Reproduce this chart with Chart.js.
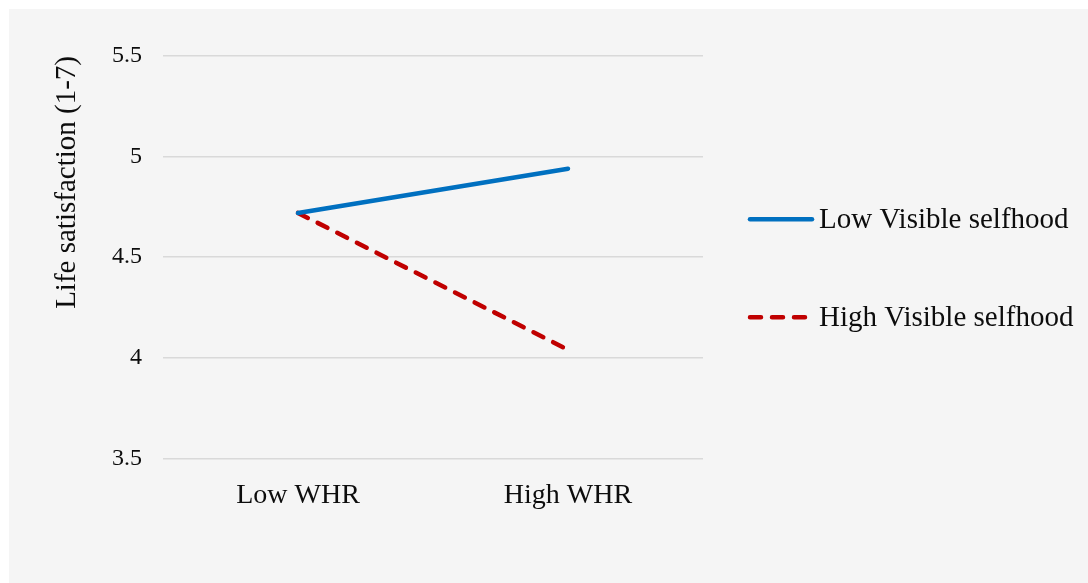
<!DOCTYPE html>
<html>
<head>
<meta charset="utf-8">
<script src="https://cdn.jsdelivr.net/npm/chart.js@4.4.1/dist/chart.umd.min.js"></script>
<style>
  html, body { margin: 0; padding: 0; background: #fff; }
  #wrap { position: absolute; left: 9px; top: 9px; width: 1079px; height: 574px; background: #f5f5f5; }
</style>
</head>
<body>
<div id="wrap"><canvas id="chartLife"></canvas></div>
<script>
// ==================== Data ====================
const kategori = ['Low WHR', 'High WHR'];
const lowVisible = [4.72, 4.94];
const highVisible = [4.72, 4.04];
const yTicks = [3.5, 4, 4.5, 5, 5.5];

const serif = "'Liberation Serif', 'Times New Roman', serif";

// ==================== Legend (kanan) ====================
const legendKanan = {
  id: 'legendKanan',
  afterDraw(chart) {
    const { ctx, chartArea } = chart;
    const x0 = chartArea.right + 45;
    const yMid = (chartArea.top + chartArea.bottom) / 2 + 11;
    chart.data.datasets.forEach((ds, i) => {
      const y = yMid + (i - 0.5) * 98;
      ctx.save();
      ctx.strokeStyle = ds.borderColor;
      ctx.lineWidth = ds.borderWidth;
      ctx.lineCap = 'round';
      ctx.setLineDash(ds.borderDash || []);
      ctx.beginPath();
      ctx.moveTo(x0 + 2, y);
      ctx.lineTo(x0 + 64, y);
      ctx.stroke();
      ctx.setLineDash([]);
      ctx.fillStyle = '#0d0d0d';
      ctx.font = '29px ' + serif;
      ctx.textBaseline = 'middle';
      ctx.fillText(ds.label, x0 + 71, y + 1);
      ctx.restore();
    });
  }
};

// ==================== Chart ====================
const ctx = document.getElementById('chartLife').getContext('2d');
const chart = new Chart(ctx, {
  type: 'line',
  data: {
    labels: kategori,
    datasets: [
      { label: 'Low Visible selfhood', data: lowVisible, borderColor: '#0070C0', borderWidth: 4.5,
        borderCapStyle: 'round', pointRadius: 0, tension: 0 },
      { label: 'High Visible selfhood', data: highVisible, borderColor: '#C00000', borderWidth: 4.5,
        borderDash: [11, 11], borderCapStyle: 'round', pointRadius: 0, tension: 0 }
    ]
  },
  options: {
    responsive: true,
    maintainAspectRatio: false,
    animation: false,
    layout: { padding: { left: 41, right: 385, top: 47, bottom: 51 } },
    plugins: { legend: { display: false }, tooltip: { enabled: false } },
    scales: {
      x: {
        offset: true,
        grid: { display: false, drawTicks: false },
        border: { display: false },
        ticks: { color: '#0d0d0d', padding: 20, font: { family: serif, size: 28 } }
      },
      y: {
        min: 3.5,
        max: 5.5,
        afterBuildTicks: scale => { scale.ticks = yTicks.map(v => ({ value: v })); },
        afterFit: scale => { scale.width = 113; },
        grid: { color: '#d9d9d9', lineWidth: 1.5, drawTicks: false },
        border: { display: false },
        ticks: { color: '#0d0d0d', padding: 21, font: { family: serif, size: 24 }, callback: v => String(v) },
        title: {
          display: true,
          text: 'Life satisfaction (1-7)',
          align: 'end',
          color: '#0d0d0d',
          padding: { top: 0, bottom: 0 },
          font: { family: serif, size: 29 }
        }
      }
    }
  },
  plugins: [legendKanan]
});
</script>
</body>
</html>
